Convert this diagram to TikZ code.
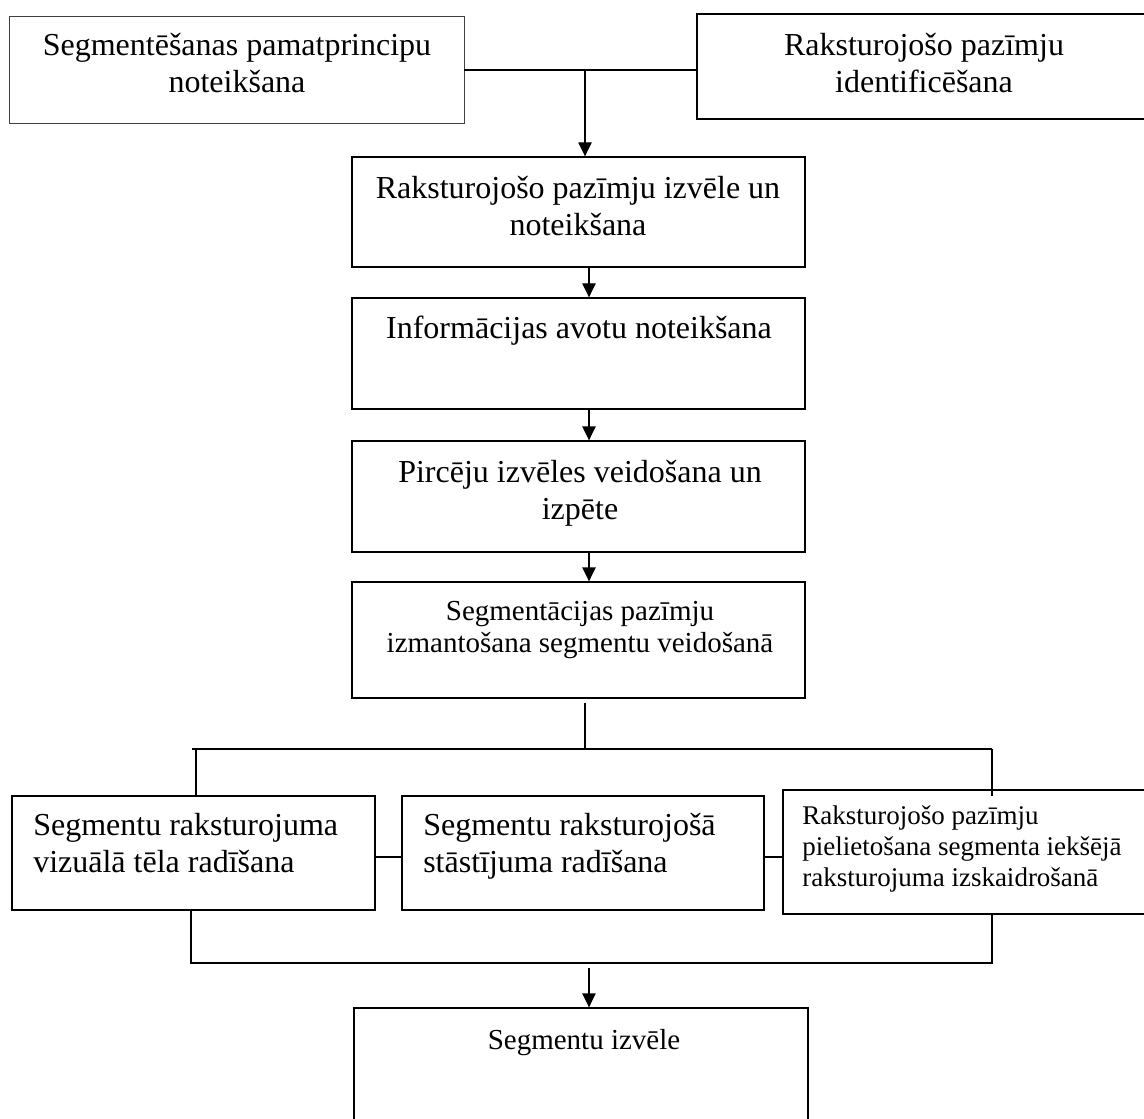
\documentclass[tikz,border=0pt]{standalone}
\usepackage{fontspec}
\setmainfont{Liberation Serif}
\usetikzlibrary{arrows.meta,fit}
\newcommand\mylines[2]{\begin{tabular}[t]{@{}#1@{}}#2\end{tabular}}
\begin{document}
\begin{tikzpicture}[x=0.75pt,y=-0.75pt,
  box/.style={draw, line width=1pt, inner sep=0pt},
  conn/.style={line width=1pt},
  arr/.style={conn, -{Triangle[length=10.5pt,width=10pt]}},
  big/.style={font=\fontsize{24}{27.75}\selectfont, inner sep=0pt, anchor=base},
  mid/.style={font=\fontsize{21.75}{24}\selectfont, inner sep=0pt, anchor=base},
  small/.style={font=\fontsize{20.25}{23.25}\selectfont, inner sep=0pt, anchor=base west}]
\useasboundingbox (0,0) rectangle (1144,1119);

% boxes
\node[box, draw=black!75, line width=0.7pt, fit={(9,16) (464,123)}] (b1) {};
\node[box, fit={(697,14) (1150,119)}] (b2) {};
\node[box, fit={(352,157) (805,267)}] (b3) {};
\node[box, fit={(352,298) (805,409)}] (b4) {};
\node[box, fit={(352,441) (805,552)}] (b5) {};
\node[box, fit={(352,582) (805,698)}] (b6) {};
\node[box, fit={(12,796) (375,910)}] (b7) {};
\node[box, fit={(402,796) (764,910)}] (b8) {};
\node[box, fit={(783,790) (1150,914)}] (b9) {};
\node[box, fit={(354,1008) (808,1130)}] (b10) {};

% texts
\node[big] (t1) at (237,56) {\mylines{c}{Segmentēšanas pamatprincipu\\noteikšana}};
\node[big] (t2) at (924,56) {\mylines{c}{Raksturojošo pazīmju\\identificēšana}};
\node[big] (t3) at (578,199) {\mylines{c}{Raksturojošo pazīmju izvēle un\\noteikšana}};
\node[big] (t4) at (579,339) {Informācijas avotu noteikšana};
\node[big] (t5) at (580,482) {\mylines{c}{Pircēju izvēles veidošana un\\izpēte}};
\node[mid] (t6) at (580,620) {\mylines{c}{Segmentācijas pazīmju\\izmantošana segmentu veidošanā}};
\node[big, anchor=base west] (t7) at (33,835) {\mylines{l}{Segmentu raksturojuma\\vizuālā tēla radīšana}};
\node[big, anchor=base west] (t8) at (423,835) {\mylines{l}{Segmentu raksturojošā\\stāstījuma radīšana}};
\node[small] (t9) at (802,824) {\mylines{l}{Raksturojošo pazīmju\\pielietošana segmenta iekšējā\\raksturojuma izskaidrošanā}};
\node[mid] (t10) at (584,1049) {Segmentu izvēle};

% connectors
\coordinate (j1) at (585,70);
\draw[conn] (b1.east |- j1) -- (b2.west |- j1);
\draw[arr] (j1) -- (b3.north -| j1);

\coordinate (ax) at (589,0);
\draw[arr] (b3.south -| ax) -- (b4.north -| ax);
\draw[arr] (b4.south -| ax) -- (b5.north -| ax);
\draw[arr] (b5.south -| ax) -- (b6.north -| ax);

\coordinate (j2) at (585,749);
\coordinate (hl) at (192,749);
\coordinate (hr) at (992,749);
\coordinate (l7) at (196,749);
\draw[conn] ([yshift=-3pt]b6.south -| j2) -- (j2);
\draw[conn] (hl) -- (hr);
\draw[conn] (l7) -- (b7.north -| l7);
\draw[conn] (hr) -- ([yshift=-5pt]b9.north -| hr);

\coordinate (m) at (0,857);
\draw[conn] (b7.east |- m) -- (b8.west |- m);
\draw[conn] (b8.east |- m) -- (b9.west |- m);

\coordinate (bl) at (191,963);
\coordinate (br) at (992,963);
\draw[conn] (b7.south -| bl) -- (bl) -- (br) -- (b9.south -| br);

\coordinate (j3) at (589,968);
\draw[arr] (j3) -- (b10.north -| j3);
\end{tikzpicture}
\end{document}
